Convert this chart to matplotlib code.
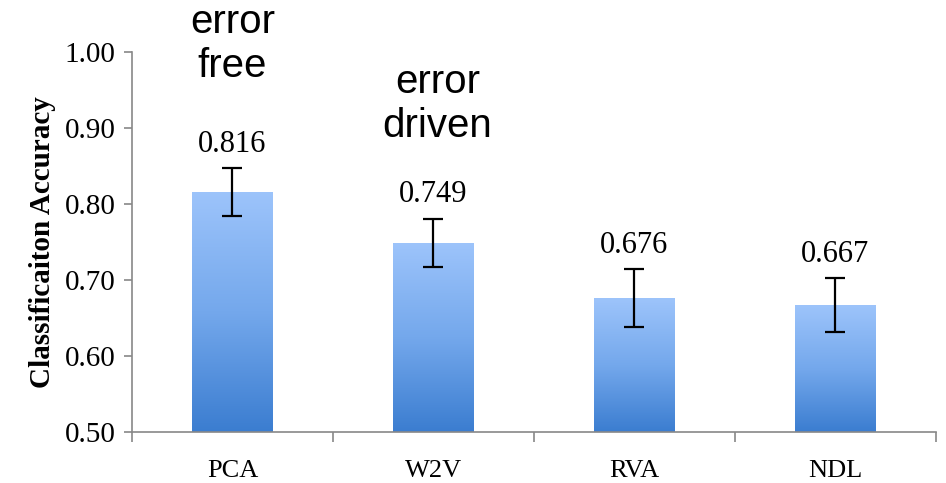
import numpy as np
import matplotlib
matplotlib.use('Agg')
import matplotlib.pyplot as plt
from matplotlib.colors import LinearSegmentedColormap

# data
methods = ['PCA', 'W2V', 'RVA', 'NDL']
accuracy = [0.816, 0.749, 0.676, 0.667]
err = [0.032, 0.032, 0.038, 0.036]
y_ticks = [0.50, 0.60, 0.70, 0.80, 0.90, 1.00]

fig = plt.figure(figsize=(9.46, 4.83), dpi=100)
ax = fig.add_axes([0.1395, 0.1056, 0.8495, 0.7864])

x = np.arange(len(methods))
bars = ax.bar(x, accuracy, width=0.4, color='none', edgecolor='none', zorder=2)

# vertical gradient inside each bar
cmap = LinearSegmentedColormap.from_list('bar', ['#3b7dd0', '#74a8ec', '#9dc4fb'])
grad = np.linspace(0, 1, 256).reshape(-1, 1)
for b in bars:
    im = ax.imshow(grad, cmap=cmap, origin='lower', aspect='auto',
                   extent=[b.get_x(), b.get_x() + b.get_width(), 0.5, b.get_height()],
                   zorder=2)
    im.set_clip_path(b)

ax.errorbar(x, accuracy, yerr=err, fmt='none', ecolor='black', elinewidth=1.6,
            capsize=7, capthick=1.6, zorder=3)

for xi, v, e in zip(x, accuracy, err):
    ax.text(xi, v + e + 0.012, f'{v:.3f}', ha='center', va='bottom',
            fontsize=22, family='Liberation Serif')

# notes above first two bars
ax.text(0, 1.011, 'error\nfree', ha='center', va='center', fontsize=29,
        family='Liberation Sans', linespacing=1.2, clip_on=False)
ax.text(1.02, 0.932, 'error\ndriven', ha='center', va='center', fontsize=29,
        family='Liberation Sans', linespacing=1.2, clip_on=False)

ax.set_xlim(-0.5, len(methods) - 0.5)
ax.set_ylim(0.5, 1.0)
ax.set_yticks(y_ticks)
ax.set_yticklabels([f'{t:.2f}' for t in y_ticks], family='Liberation Serif', fontsize=21)
ax.set_xticks(x)
ax.set_xticklabels(methods, family='Liberation Serif', fontsize=19)
ax.tick_params(axis='x', length=0, pad=20)
ax.set_xticks(np.arange(-0.5, len(methods)), minor=True)
ax.tick_params(axis='x', which='minor', length=7, color='#888888', width=1.2)
ax.tick_params(axis='y', length=6, color='#888888', width=1.2, pad=6)

ax.set_ylabel('Classificaiton Accuracy', family='Liberation Serif', fontweight='bold',
              fontsize=21, labelpad=6)

for s in ['top', 'right']:
    ax.spines[s].set_visible(False)
for s in ['left', 'bottom']:
    ax.spines[s].set_color('#888888')
    ax.spines[s].set_linewidth(1.2)

fig.savefig('out.png', dpi=100)
